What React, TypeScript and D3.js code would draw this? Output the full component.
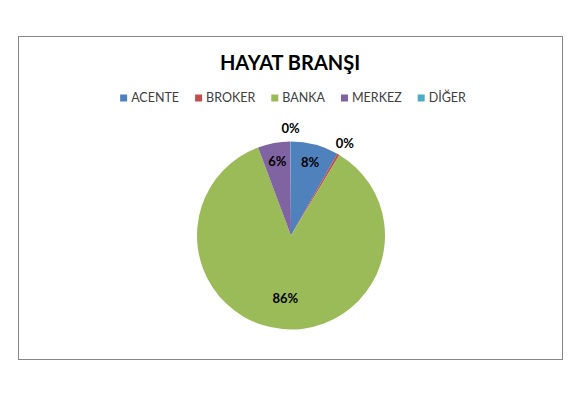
import * as React from 'react';
import * as d3 from 'd3';

// chart values
const title = 'HAYAT BRANŞI';
const categories = ['ACENTE', 'BROKER', 'BANKA', 'MERKEZ', 'DİĞER'];
const shares = [8.2, 0.4, 85.7, 5.6, 0.1];
const sliceColors = ['#4F81BD', '#C0504D', '#9BBB59', '#8064A2', '#4BACC6'];

const width = 580;
const height = 408;
const font = 'Lato, Carlito, "Open Sans", sans-serif';

const renderPie = (node: SVGSVGElement) => {
  const svg = d3.select(node);
  svg.selectAll('*').remove();

  // white page and the chart frame
  svg.append('rect').attr('width', width).attr('height', height).attr('fill', '#fff');
  svg.append('rect')
    .attr('x', 18.5).attr('y', 36.5)
    .attr('width', 544).attr('height', 323)
    .attr('fill', '#fff')
    .attr('stroke', '#868686')
    .attr('stroke-width', 1);

  svg.append('text')
    .attr('x', 290).attr('y', 69.5)
    .attr('text-anchor', 'middle')
    .attr('font-family', font)
    .attr('font-weight', 'bold')
    .attr('font-size', 20)
    .attr('fill', '#000')
    .text(title);

  // legend, laid out from measured text widths and centred
  const legend = svg.append('g');
  const items = legend.selectAll('g.item')
    .data(categories)
    .join('g')
    .attr('class', 'item');
  items.append('rect')
    .attr('width', 7).attr('height', 7)
    .attr('y', -7.5)
    .attr('fill', (d, i) => sliceColors[i]);
  items.append('text')
    .attr('x', 11)
    .attr('y', 0)
    .attr('font-family', font)
    .attr('font-size', 12.5)
    .attr('fill', '#404040')
    .text(d => d);
  let cursor = 0;
  const gap = 16;
  items.each(function () {
    const g = d3.select(this);
    const tw = (g.select('text').node() as SVGTextElement).getComputedTextLength();
    g.attr('transform', `translate(${cursor},0)`);
    cursor += 11 + tw + gap;
  });
  const legendWidth = cursor - gap;
  legend.attr('transform', `translate(${293 - legendWidth / 2},102)`);

  // pie
  const cx = 291;
  const cy = 235.5;
  const radius = 94;
  const pie = d3.pie<number>().sort(null).value(d => d);
  const arcs = pie(shares);
  const arc = d3.arc<d3.PieArcDatum<number>>().innerRadius(0).outerRadius(radius);

  const plot = svg.append('g').attr('transform', `translate(${cx},${cy})`);
  plot.selectAll('path')
    .data(arcs)
    .join('path')
    .attr('d', arc)
    .attr('fill', (d, i) => sliceColors[i]);

  // labels: inside for wide slices, just outside for the thin ones
  const total = d3.sum(shares);
  const labelRadius = (d: d3.PieArcDatum<number>) => {
    const share = d.value / total;
    if (share < 0.02) return radius + 13;
    if (share > 0.5) return radius * 0.67;
    return radius * 0.8;
  };
  plot.selectAll('text')
    .data(arcs)
    .join('text')
    .attr('transform', (d) => {
      const a = (d.startAngle + d.endAngle) / 2;
      const r = labelRadius(d);
      return `translate(${r * Math.sin(a)},${-r * Math.cos(a)})`;
    })
    .attr('text-anchor', 'middle')
    .attr('dy', '0.35em')
    .attr('font-family', font)
    .attr('font-weight', 'bold')
    .attr('font-size', 13)
    .attr('fill', '#000')
    .text(d => `${Math.round((d.value / total) * 100)}%`);
};

const App = () => {
  const ref = React.useRef<SVGSVGElement>(null);
  React.useEffect(() => {
    document.body.style.margin = '0';
    if (ref.current) renderPie(ref.current);
  }, []);
  return <svg ref={ref} width={width} height={height} style={{ display: 'block' }} />;
};

export default App;
